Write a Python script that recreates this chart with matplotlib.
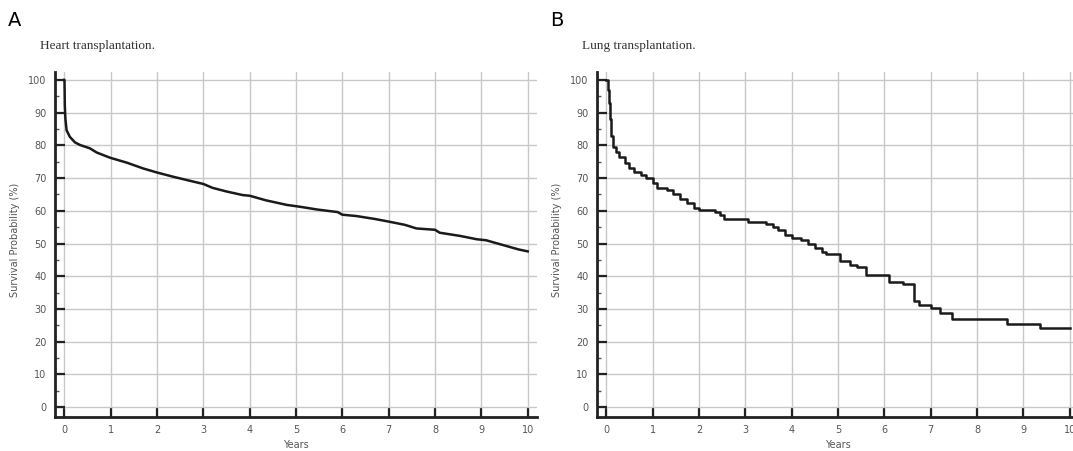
import matplotlib
matplotlib.use("Agg")
import matplotlib.pyplot as plt
from matplotlib.ticker import MultipleLocator

# Heart transplantation survival (years, %)
heart_t = [0, 0.005, 0.012, 0.025, 0.05, 0.12, 0.23, 0.34, 0.55, 0.70, 0.99, 1.35, 1.71,
           2.0, 2.35, 2.79, 3.0, 3.2, 3.5, 3.85, 4.0, 4.35, 4.8, 5.1, 5.45, 5.9, 6.0, 6.3,
           6.7, 7.0, 7.35, 7.6, 8.0, 8.1, 8.55, 8.9, 9.1, 9.4, 9.8, 10.0]
heart_s = [100, 100, 92, 88, 84.6, 82.6, 80.9, 80.1, 79.1, 77.8, 76.2, 74.7, 72.9,
           71.7, 70.4, 68.9, 68.2, 67.0, 65.9, 64.8, 64.6, 63.2, 61.8, 61.2, 60.4, 59.6, 58.8, 58.4,
           57.5, 56.7, 55.7, 54.6, 54.2, 53.3, 52.3, 51.3, 51.0, 49.8, 48.2, 47.6]

# Lung transplantation survival (years, %)
lung_t = [0, 0.03, 0.05, 0.08, 0.11, 0.14, 0.2, 0.28, 0.4, 0.5, 0.6, 0.75, 0.85, 1.0, 1.1,
          1.3, 1.45, 1.6, 1.75, 1.9, 2.0, 2.35, 2.45, 2.55, 3.05, 3.45, 3.6, 3.7, 3.85, 4.0,
          4.2, 4.35, 4.5, 4.65, 4.75, 5.05, 5.25, 5.4, 5.6, 6.1, 6.4, 6.65, 6.75, 7.0, 7.2,
          7.45, 8.65, 9.35, 10.0]
lung_s = [100, 97, 93, 88, 83, 79.5, 78, 76.5, 74.5, 73, 72, 71, 70, 68.5, 67,
          66.5, 65, 63.5, 62.5, 61, 60.2, 59.5, 58.7, 57.5, 56.5, 56, 55, 54, 52.5, 51.7,
          51, 50, 48.5, 47.5, 46.7, 44.6, 43.5, 42.7, 40.5, 38.2, 37.5, 32.3, 31.3, 30.4, 28.9,
          27, 25.5, 24.2, 24.2]

x_ticks = list(range(0, 11))
y_ticks = list(range(0, 101, 10))
panel_letters = ["A", "B"]
panel_titles = ["Heart transplantation.", "Lung transplantation."]
x_label = "Years"
y_label = "Survival Probability (%)"

W, H = 1073, 451
fig = plt.figure(figsize=(W / 100, H / 100), dpi=100)

def px_axes(l, r, t, b):
    return [l / W, 1 - b / H, (r - l) / W, (b - t) / H]

axes_px = [(55, 537, 72, 417), (597, 1079, 72, 417)]
label_x = [15, 557]
letter_x = [8, 550]
title_x = [40, 582]

for i in range(2):
    ax = fig.add_axes(px_axes(*axes_px[i]))
    if i == 0:
        ax.plot(heart_t, heart_s, color="#1a1a1a", lw=1.8, zorder=3,
                solid_joinstyle="round")
    else:
        ax.step(lung_t, lung_s, where="post", color="#1a1a1a", lw=1.8, zorder=3)
    ax.set_xlim(-0.2, 10.2)
    ax.set_ylim(-3.0, 102.4)
    ax.set_xticks(x_ticks)
    ax.set_yticks(y_ticks)
    ax.yaxis.set_minor_locator(MultipleLocator(5))
    ax.grid(True, which="major", color="#c8c8c8", lw=1.0, zorder=0)
    for s in ["top", "right"]:
        ax.spines[s].set_visible(False)
    for s in ["left", "bottom"]:
        ax.spines[s].set_linewidth(2.0)
        ax.spines[s].set_color("#222222")
    ax.tick_params(axis="both", which="major", direction="in", length=7, width=1.6,
                   color="#222222", labelsize=7, labelcolor="#555555", pad=6)
    ax.tick_params(axis="y", which="minor", direction="in", length=3, width=1.0, color="#555555")
    ax.tick_params(axis="x", which="minor", length=0)
    ax.set_xlabel(x_label, fontsize=7, color="#555555", labelpad=3)
    fig.text(label_x[i] / W, 1 - 240 / H, y_label, rotation=90, fontsize=7, color="#555555",
             ha="center", va="center")
    fig.text(letter_x[i] / W, 1 - 20 / H, panel_letters[i], fontsize=14, color="black",
             ha="left", va="center")
    fig.text(title_x[i] / W, 1 - 46 / H, panel_titles[i], fontsize=9.5, color="#333333",
             family=["Liberation Serif", "DejaVu Serif"], ha="left", va="center")

fig.savefig("out.png", dpi=100)
